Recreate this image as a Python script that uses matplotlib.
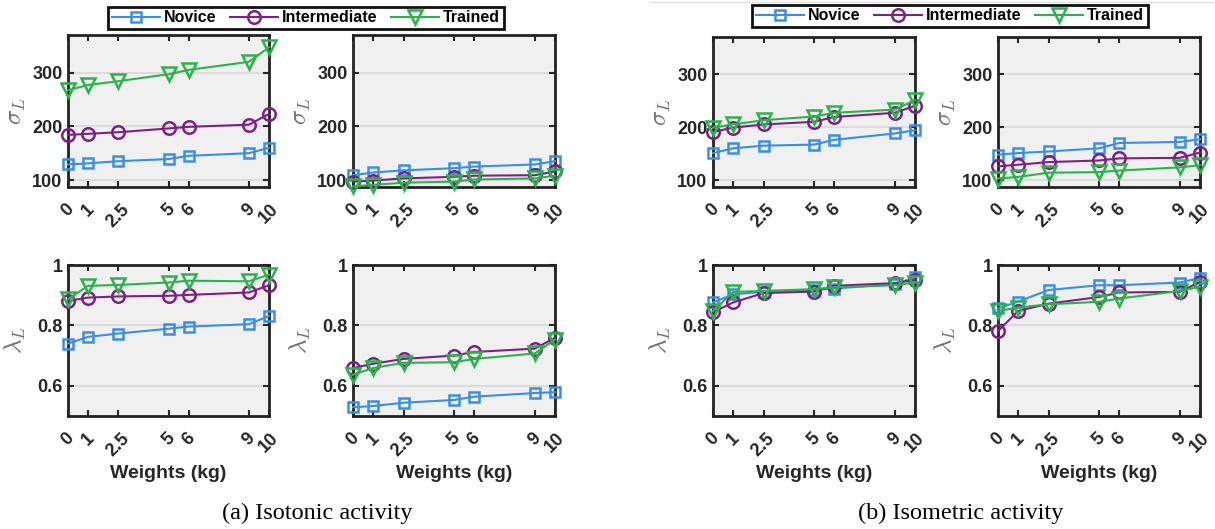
import matplotlib
matplotlib.use("Agg")
import matplotlib.pyplot as plt
from matplotlib.lines import Line2D

plt.rcParams['font.family'] = ['Liberation Sans', 'DejaVu Sans']
plt.rcParams['mathtext.fontset'] = 'cm'

weights = [0, 1, 2.5, 5, 6, 9, 10]
weight_labels = ['0', '1', '2.5', '5', '6', '9', '10']
groups = ['Novice', 'Intermediate', 'Trained']

# (a) isotonic activity
iso_sigma_1 = {
    'Novice': [129, 131, 135, 139, 145, 150, 160],
    'Intermediate': [184, 186, 189, 196, 199, 203, 223],
    'Trained': [267, 277, 284, 297, 305, 320, 347],
}
iso_sigma_2 = {
    'Novice': [109, 114, 118, 122, 125, 129, 135],
    'Intermediate': [97, 99, 103, 106, 108, 109, 116],
    'Trained': [88, 91, 95, 97, 101, 103, 108],
}
iso_lambda_1 = {
    'Novice': [0.740, 0.762, 0.773, 0.789, 0.796, 0.804, 0.831],
    'Intermediate': [0.881, 0.892, 0.896, 0.898, 0.901, 0.909, 0.933],
    'Trained': [0.887, 0.931, 0.934, 0.942, 0.948, 0.946, 0.968],
}
iso_lambda_2 = {
    'Novice': [0.529, 0.533, 0.544, 0.553, 0.564, 0.576, 0.579],
    'Intermediate': [0.659, 0.673, 0.689, 0.700, 0.712, 0.723, 0.759],
    'Trained': [0.637, 0.659, 0.676, 0.678, 0.689, 0.707, 0.753],
}

# (b) isometric activity
isom_sigma_1 = {
    'Novice': [151, 160, 165, 167, 176, 188, 194],
    'Intermediate': [191, 199, 205, 210, 219, 227, 240],
    'Trained': [199, 205, 213, 220, 227, 233, 251],
}
isom_sigma_2 = {
    'Novice': [148, 151, 154, 160, 170, 172, 177],
    'Intermediate': [126, 129, 134, 137, 141, 142, 152],
    'Trained': [103, 106, 114, 115, 118, 124, 128],
}
isom_lambda_1 = {
    'Novice': [0.876, 0.903, 0.911, 0.918, 0.922, 0.937, 0.959],
    'Intermediate': [0.844, 0.876, 0.907, 0.912, 0.931, 0.940, 0.951],
    'Trained': [0.848, 0.911, 0.914, 0.920, 0.926, 0.933, 0.942],
}
isom_lambda_2 = {
    'Novice': [0.856, 0.879, 0.917, 0.933, 0.933, 0.942, 0.957],
    'Intermediate': [0.781, 0.848, 0.872, 0.894, 0.909, 0.911, 0.944],
    'Trained': [0.848, 0.859, 0.870, 0.878, 0.889, 0.914, 0.928],
}

colors = {'Novice': '#3a8ee6', 'Intermediate': '#7e1f86', 'Trained': '#2ab34a'}
markers = {'Novice': ('s', 7), 'Intermediate': ('o', 9), 'Trained': ('v', 10)}

W, H = 1215, 529
fig = plt.figure(figsize=(W / 100, H / 100), dpi=100)


def add_panel(x0, x1, y0, y1, data, ylabel, ylim, yticks, ytl, bottom_row):
    ax = fig.add_axes([x0 / W, 1 - y1 / H, (x1 - x0) / W, (y1 - y0) / H])
    ax.set_facecolor('#f0f0f0')
    for g in groups:
        m, ms = markers[g]
        ax.plot(weights, data[g], color=colors[g], lw=1.5, marker=m, ms=ms,
                mfc='none', mec=colors[g], mew=1.8, clip_on=False, zorder=3, label=g)
    ax.set_xlim(0, 10)
    ax.set_ylim(*ylim)
    ax.set_xticks(weights)
    ax.set_xticklabels(weight_labels, rotation=45, fontweight='bold', fontsize=13)
    ax.set_yticks(yticks)
    ax.set_yticklabels(ytl, fontweight='bold', fontsize=13)
    ax.tick_params(axis='x', direction='in', top=True, length=4, width=1.5, pad=10, colors='#262626')
    ax.tick_params(axis='y', direction='in', right=True, length=4, width=1.5, pad=4, colors='#262626')
    ax.grid(axis='y', color='#dcdcdc', lw=1.5)
    ax.set_axisbelow(True)
    for s in ax.spines.values():
        s.set_linewidth(2)
        s.set_color('#222222')
    ax.set_ylabel(ylabel, fontsize=18, color='#707070')
    ax.yaxis.set_label_coords(-0.2, 0.5)
    if bottom_row:
        ax.set_xlabel('Weights (kg)', fontsize=14, fontweight='bold', color='#262626', labelpad=4)
    return ax


sig_lim, sig_ticks, sig_tl = (87, 370), [100, 200, 300], ['100', '200', '300']
lam_lim, lam_ticks, lam_tl = (0.5, 1.0), [0.6, 0.8, 1.0], ['0.6', '0.8', '1']

ax0 = add_panel(68, 269, 35, 187, iso_sigma_1, r'$\sigma_L$', sig_lim, sig_ticks, sig_tl, False)
add_panel(353, 555, 35, 187, iso_sigma_2, r'$\sigma_L$', sig_lim, sig_ticks, sig_tl, False)
add_panel(68, 269, 265, 416, iso_lambda_1, r'$\lambda_L$', lam_lim, lam_ticks, lam_tl, True)
add_panel(353, 555, 265, 416, iso_lambda_2, r'$\lambda_L$', lam_lim, lam_ticks, lam_tl, True)

add_panel(713, 915, 37, 187, isom_sigma_1, r'$\sigma_L$', sig_lim, sig_ticks, sig_tl, False)
add_panel(998, 1200, 37, 187, isom_sigma_2, r'$\sigma_L$', sig_lim, sig_ticks, sig_tl, False)
add_panel(713, 915, 265, 416, isom_lambda_1, r'$\lambda_L$', lam_lim, lam_ticks, lam_tl, True)
add_panel(998, 1200, 265, 416, isom_lambda_2, r'$\lambda_L$', lam_lim, lam_ticks, lam_tl, True)

handles, labels = ax0.get_legend_handles_labels()
for cx, cy in [(306, 18), (950, 16)]:
    leg = fig.legend(handles, labels, loc='center', bbox_to_anchor=(cx / W, 1 - cy / H), ncol=3,
                     prop={'weight': 'bold', 'size': 11.5}, frameon=True, fancybox=False,
                     edgecolor='#111111', framealpha=1, handlelength=3, handletextpad=0.3,
                     columnspacing=0.8, borderpad=0.25, borderaxespad=0)
    leg.get_frame().set_linewidth(2)

fig.add_artist(Line2D([650 / W, 1], [1 - 1.5 / H, 1 - 1.5 / H], color='#e0e0e0', lw=1))

fig.text(317 / W, 1 - 513 / H, '(a) Isotonic activity', ha='center', va='center',
         family='Liberation Serif', fontsize=17.5)
fig.text(961 / W, 1 - 513 / H, '(b) Isometric activity', ha='center', va='center',
         family='Liberation Serif', fontsize=17.5)

fig.savefig('out.png', dpi=100)
